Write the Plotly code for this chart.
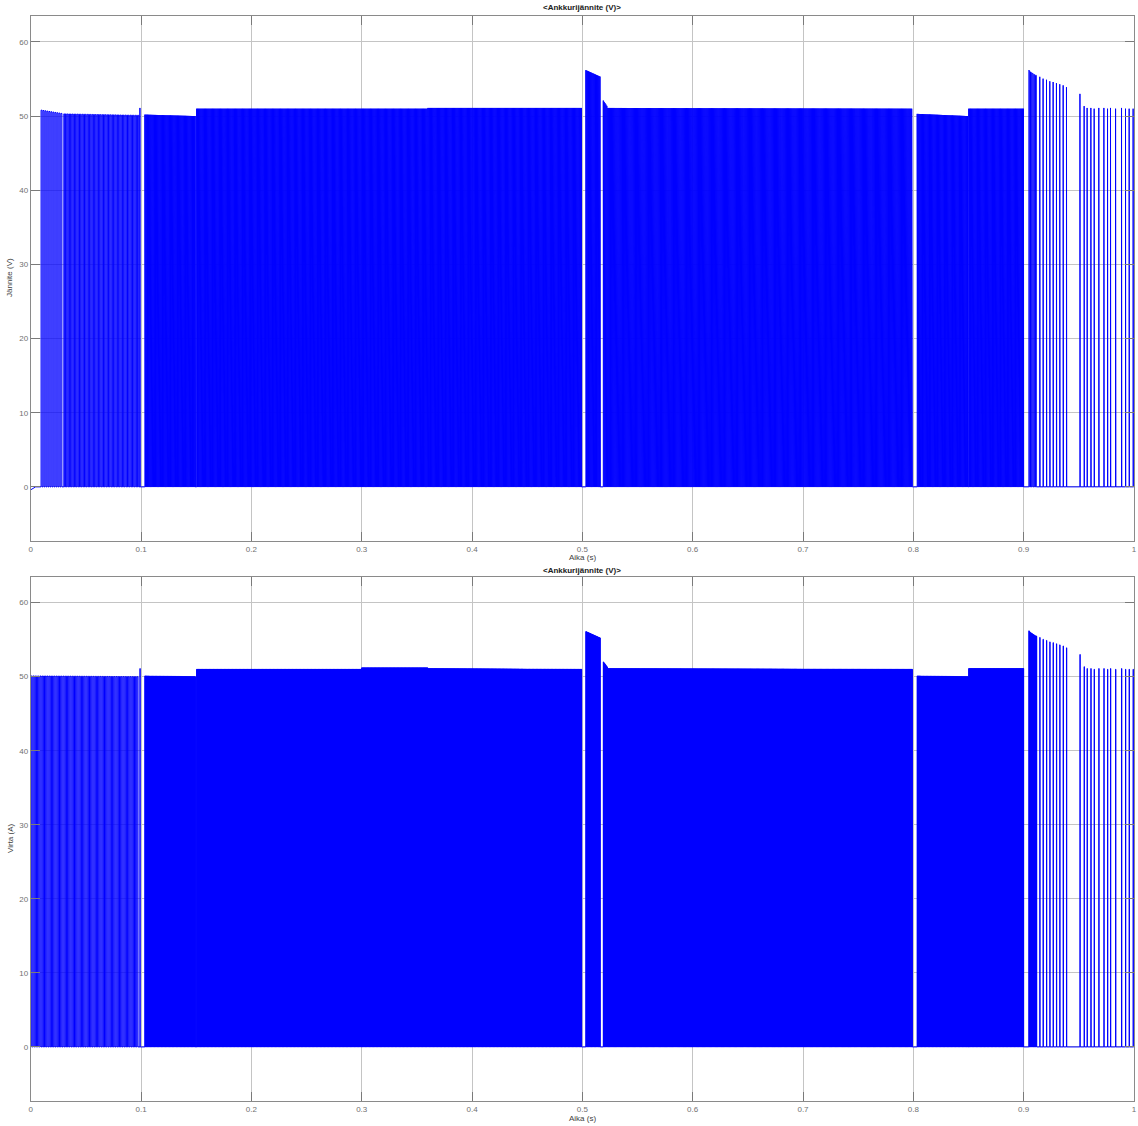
import numpy as np
import plotly.graph_objects as go

# ---------------------------------------------------------------
# Armature voltage PWM pulse trains, described segment by segment:
# start/end time (s), pulse peak at segment start/end, switching period (s)
# ---------------------------------------------------------------
top_seg_start = [0.0094, 0.0300, 0.1035, 0.1504, 0.3600, 0.5032, 0.5190, 0.5230, 0.8035, 0.8502]
top_seg_end = [0.0300, 0.0985, 0.1495, 0.3600, 0.4995, 0.5165, 0.5230, 0.7995, 0.8497, 0.9001]
top_peak_start = [50.8, 50.3, 50.2, 51.0, 51.1, 56.2, 52.1, 51.1, 50.3, 51.0]
top_peak_end = [50.3, 50.1, 50.0, 51.0, 51.1, 55.3, 51.2, 51.0, 50.0, 51.0]
top_period = [0.0018, 0.0005, 0.0004, 0.0004, 0.0004, 0.0004, 0.0004, 0.00042, 0.0004, 0.0004]

bot_seg_start = [0.0005, 0.1035, 0.1504, 0.3000, 0.3600, 0.5032, 0.5190, 0.5230, 0.8035, 0.8502]
bot_seg_end = [0.0985, 0.1495, 0.3000, 0.3600, 0.4995, 0.5165, 0.5230, 0.7995, 0.8497, 0.9001]
bot_peak_start = [50.1, 50.1, 51.0, 51.2, 51.1, 56.1, 52.0, 51.1, 50.1, 51.1]
bot_peak_end = [50.0, 50.0, 51.0, 51.2, 51.0, 55.2, 51.2, 51.0, 50.0, 51.1]
bot_period = [0.0016, 0.0004, 0.0004, 0.0004, 0.0004, 0.0004, 0.0004, 0.00042, 0.0004, 0.0004]

# Isolated pulses (time s, peak V)
top_single_t = [0.0990]
top_single_v = [51.1]
bot_single_t = [0.0990]
bot_single_v = [51.1]

# Final 0.9...1.0 s interval: individual pulses
tail_t = [0.9047, 0.9052, 0.9057, 0.9062, 0.9067, 0.9072, 0.9077, 0.9082, 0.9087,
          0.9092, 0.9097, 0.9102, 0.9107, 0.9112, 0.9116, 0.9146, 0.9176, 0.9207,
          0.9237, 0.9267, 0.9297, 0.9327, 0.9358, 0.9388, 0.9510, 0.9548, 0.9575,
          0.9609, 0.9639, 0.9681, 0.9727, 0.9760, 0.9787, 0.9833, 0.9887, 0.9923,
          0.9956, 0.9992]
tail_v = [56.2, 56.1, 56.0, 55.95, 55.9, 55.85, 55.8, 55.75, 55.7,
          55.65, 55.6, 55.55, 55.5, 55.5, 55.45, 55.3, 55.05, 54.9,
          54.7, 54.6, 54.45, 54.3, 54.15, 53.9, 53.0, 51.35, 51.1,
          51.1, 51.0, 51.1, 51.1, 51.0, 51.1, 51.0, 51.1, 51.0,
          51.0, 51.0]
tail_width = 0.00025

# Start-up transient before the first pulse (top signal)
top_start_t = [0.0, 0.0045]
top_start_v = [-0.4, 0.0]

x_ticks = [0, 0.1, 0.2, 0.3, 0.4, 0.5, 0.6, 0.7, 0.8, 0.9, 1]
x_tick_text = ["0", "0.1", "0.2", "0.3", "0.4", "0.5", "0.6", "0.7", "0.8", "0.9", "1"]
y_ticks = [0, 10, 20, 30, 40, 50, 60]


def pulse_train(seg_start, seg_end, v0, v1, period, single_t, single_v, start_t, start_v):
    pulses = []
    for t0, t1, a, b, p in zip(seg_start, seg_end, v0, v1, period):
        ts = np.arange(t0, t1 - p / 2, p)
        vs = a + (b - a) * (ts - t0) / (t1 - t0)
        for t, v in zip(ts, vs):
            pulses.append((t, t + p / 2, v))
    for t, v in zip(single_t, single_v):
        pulses.append((t, t + tail_width, v))
    for t, v in zip(tail_t, tail_v):
        pulses.append((t, t + tail_width, v))
    pulses.sort()
    xs = list(start_t)
    ys = list(start_v)
    for on, off, v in pulses:
        xs += [on, on, off, off]
        ys += [0.0, v, v, 0.0]
    xs.append(1.0)
    ys.append(0.0)
    return np.array(xs), np.array(ys)


tx, ty = pulse_train(top_seg_start, top_seg_end, top_peak_start, top_peak_end, top_period,
                     top_single_t, top_single_v, top_start_t, top_start_v)
bx, by = pulse_train(bot_seg_start, bot_seg_end, bot_peak_start, bot_peak_end, bot_period,
                     bot_single_t, bot_single_v, [0.0], [0.0])

fig = go.Figure()
fig.add_trace(go.Scatter(x=tx, y=ty, mode="lines", line=dict(color="#0000ff", width=1),
                         xaxis="x", yaxis="y", showlegend=False, hoverinfo="skip"))
fig.add_trace(go.Scatter(x=bx, y=by, mode="lines", line=dict(color="#0000ff", width=1),
                         xaxis="x2", yaxis="y2", showlegend=False, hoverinfo="skip"))

W, H = 1138, 1126
x_dom = [30.7 / W, 1134 / W]
top_dom = [1 - 541 / H, 1 - 16 / H]
bot_dom = [1 - 1101 / H, 1 - 576.7 / H]

axis_common = dict(
    showgrid=True, gridcolor="#c4c4c4", gridwidth=1,
    showline=True, linecolor="#8a8a8a", linewidth=1, mirror="ticks",
    ticks="inside", ticklen=9, tickcolor="#7a7a7a",
    tickfont=dict(family="Liberation Sans, Arial, sans-serif", size=8, color="#707070"),
    zeroline=False, automargin=False, fixedrange=True,
)

fig.update_layout(
    width=W, height=H,
    margin=dict(l=0, r=0, t=0, b=0),
    paper_bgcolor="white", plot_bgcolor="white",
    xaxis=dict(domain=x_dom, anchor="y", range=[0, 1], tickvals=x_ticks, ticktext=x_tick_text,
               **axis_common),
    yaxis=dict(domain=top_dom, anchor="x", range=[-7.3, 63.5], tickvals=y_ticks, **axis_common),
    xaxis2=dict(domain=x_dom, anchor="y2", range=[0, 1], tickvals=x_ticks, ticktext=x_tick_text,
                **axis_common),
    yaxis2=dict(domain=bot_dom, anchor="x2", range=[-7.3, 63.5], tickvals=y_ticks, **axis_common),
)

label_font = dict(family="Liberation Sans, Arial, sans-serif", size=8, color="#404040")
title_font = dict(family="Liberation Sans, Arial, sans-serif", size=8, color="#202020")
cx = (x_dom[0] + x_dom[1]) / 2

annotations = [
    dict(text="<b>&lt;Ankkurijännite (V)&gt;</b>", x=cx, y=1 - 8 / H, font=title_font),
    dict(text="<b>&lt;Ankkurijännite (V)&gt;</b>", x=cx, y=1 - 570 / H, font=title_font),
    dict(text="Aika (s)", x=cx, y=1 - 557 / H, font=label_font),
    dict(text="Aika (s)", x=cx, y=1 - 1118 / H, font=label_font),
    dict(text="Jännite (V)", x=10 / W, y=1 - 278 / H, textangle=-90, font=label_font),
    dict(text="Virta (A)", x=10 / W, y=1 - 838 / H, textangle=-90, font=label_font),
]
for a in annotations:
    a.update(xref="paper", yref="paper", showarrow=False, xanchor="center", yanchor="middle")
fig.update_layout(annotations=annotations)

fig.write_html("out.html")
